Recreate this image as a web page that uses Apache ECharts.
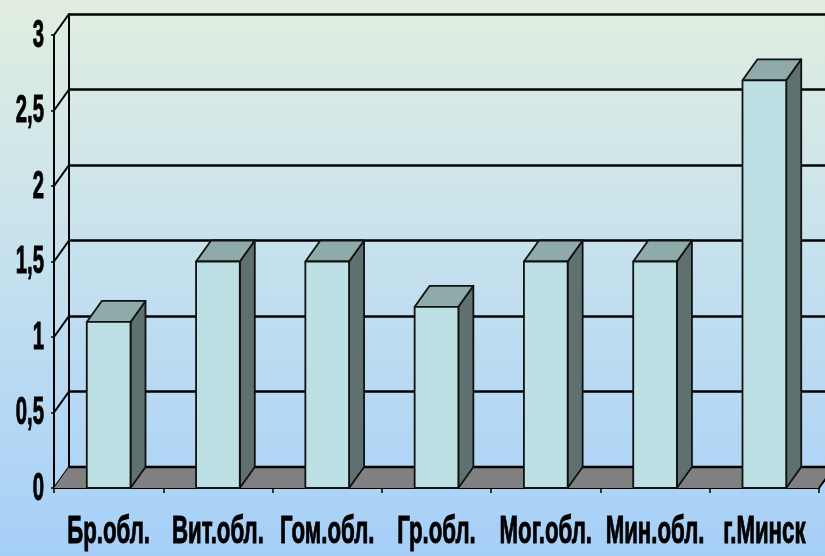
<!DOCTYPE html>
<html>
<head>
<meta charset="utf-8">
<script src="https://cdn.jsdelivr.net/npm/echarts@6/dist/echarts.min.js"></script>
<style>
html,body{margin:0;padding:0;}
#chart{width:825px;height:556px;}
</style>
</head>
<body>
<div id="chart"></div>
<script>
const categories = ['Бр.обл.', 'Вит.обл.', 'Гом.обл.', 'Гр.обл.', 'Мог.обл.', 'Мин.обл.', 'г.Минск'];
const values = [1.1, 1.5, 1.5, 1.2, 1.5, 1.5, 2.7];
const yTicks = [0, 0.5, 1, 1.5, 2, 2.5, 3];

const DX = 15, DY = -21;
const FONT = "'Liberation Sans', Arial, sans-serif";
const fmtY = v => String(v).replace('.', ',');

const chart = echarts.init(document.getElementById('chart'), null, {renderer: 'canvas'});

const option = {
  animation: false,
  backgroundColor: {
    type: 'linear', x: 0, y: 0, x2: 0, y2: 1,
    colorStops: [{offset: 0, color: '#e1eee0'}, {offset: 0.5, color: '#c4e0ef'}, {offset: 1, color: '#a6cff8'}]
  },
  grid: [
    {left: 54, top: 35, width: 765, height: 453},
    {left: 69, top: 14, width: 765, height: 453}
  ],
  xAxis: [
    {
      type: 'category', gridIndex: 0, data: categories,
      axisLine: {show: true, lineStyle: {color: '#000', width: 2}},
      axisTick: {show: true, length: 5, lineStyle: {color: '#000', width: 1.5}},
      axisLabel: {show: false},
      splitLine: {show: false}
    },
    {
      type: 'category', gridIndex: 1, data: categories, show: false
    }
  ],
  yAxis: [
    {
      type: 'value', gridIndex: 0, min: 0, max: 3, interval: 0.5,
      axisLine: {show: true, lineStyle: {color: '#000', width: 2}},
      axisTick: {show: true, length: 3, lineStyle: {color: '#000', width: 1.5}},
      axisLabel: {show: false},
      splitLine: {show: false}
    },
    {
      type: 'value', gridIndex: 1, min: 0, max: 3, interval: 0.5,
      axisLine: {show: true, lineStyle: {color: '#000', width: 2}},
      axisTick: {show: false},
      axisLabel: {show: false},
      splitLine: {show: true, lineStyle: {color: '#000', width: 2.5}}
    }
  ],
  series: [
    {
      type: 'custom', name: 'wall', xAxisIndex: 0, yAxisIndex: 0,
      data: yTicks.map(t => [0, t]),
      renderItem: function (params, api) {
        const p = api.coord([0, api.value(1)]);
        const bw = api.size([1, 0])[0];
        const lx = p[0] - bw / 2;
        return {
          type: 'group',
          children: [
            {type: 'line', shape: {x1: lx, y1: p[1], x2: lx + DX, y2: p[1] + DY},
              style: {stroke: '#000', lineWidth: 2}},
            {type: 'text', x: lx - 10, y: p[1] + 1, scaleX: 0.52,
              style: {text: fmtY(api.value(1)), fontFamily: FONT, fontWeight: 'bold', fontSize: 39,
                fill: '#000', stroke: '#000', lineWidth: 1, align: 'right', verticalAlign: 'middle'}}
          ]
        };
      }
    },
    {
      type: 'custom', name: 'floor', xAxisIndex: 0, yAxisIndex: 0,
      data: [[0, 0]],
      renderItem: function (params, api) {
        const p = api.coord([0, 0]);
        const bw = api.size([1, 0])[0];
        const l = p[0] - bw / 2, r = l + bw * categories.length, y = p[1];
        return {
          type: 'group',
          children: [
            {type: 'polygon', shape: {points: [[l, y], [r, y], [r + DX, y + DY], [l + DX, y + DY]]},
              style: {fill: '#808080', stroke: null}},
            {type: 'line', shape: {x1: l + DX, y1: y + DY, x2: r + DX, y2: y + DY},
              style: {stroke: '#000', lineWidth: 2.5}},
            {type: 'line', shape: {x1: r, y1: y, x2: r + DX, y2: y + DY},
              style: {stroke: '#000', lineWidth: 2}}
          ]
        };
      }
    },
    {
      type: 'custom', name: 'bars', xAxisIndex: 0, yAxisIndex: 0,
      data: values.map((v, i) => [i, v]),
      renderItem: function (params, api) {
        const i = api.value(0), v = api.value(1);
        const c = api.coord([i, v]);
        const b = api.coord([i, 0]);
        const w = api.size([1, 0])[0] * 0.4;
        const x0 = c[0] - w / 2, x1 = c[0] + w / 2, yt = c[1], yb = b[1];
        const st = {stroke: '#111', lineWidth: 1.8, lineJoin: 'round'};
        return {
          type: 'group',
          children: [
            {type: 'polygon', shape: {points: [[x1, yt], [x1 + DX, yt + DY], [x1 + DX, yb + DY], [x1, yb]]},
              style: Object.assign({fill: '#5e7070'}, st)},
            {type: 'polygon', shape: {points: [[x0, yt], [x1, yt], [x1 + DX, yt + DY], [x0 + DX, yt + DY]]},
              style: Object.assign({fill: '#8eaaa9'}, st)},
            {type: 'rect', shape: {x: x0, y: yt, width: w, height: yb - yt},
              style: Object.assign({fill: '#bce0e3'}, st)}
          ]
        };
      }
    },
    {
      type: 'custom', name: 'categoryLabels', xAxisIndex: 0, yAxisIndex: 0,
      data: categories.map((c, i) => [i, 0]),
      renderItem: function (params, api) {
        const i = api.value(0);
        const p = api.coord([i, 0]);
        return {
          type: 'text', x: p[0], y: p[1] + 44, scaleX: 0.57,
          style: {text: categories[i], fontFamily: FONT, fontWeight: 'bold', fontSize: 39,
            fill: '#000', stroke: '#000', lineWidth: 1, align: 'center', verticalAlign: 'middle'}
        };
      }
    }
  ]
};
chart.setOption(option);
</script>
</body>
</html>
